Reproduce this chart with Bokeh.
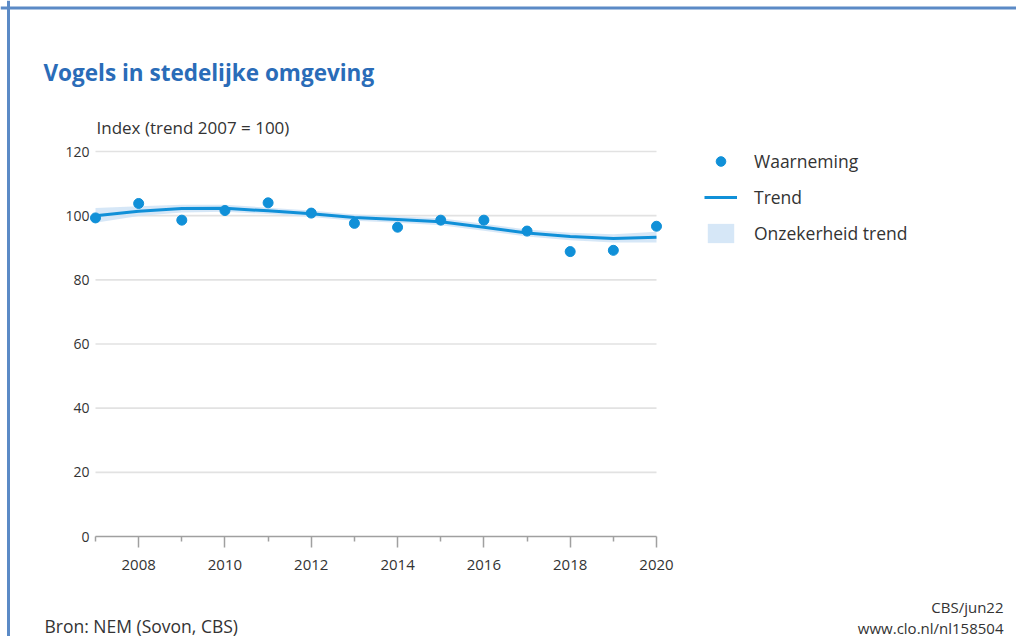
from bokeh.plotting import figure
from bokeh.models import (Range1d, FixedTicker, Label, Legend, LegendItem,
                          ColumnDataSource, Span)
from bokeh.embed import file_html
from bokeh.resources import INLINE

# ---- data ----
years = [2007, 2008, 2009, 2010, 2011, 2012, 2013, 2014, 2015, 2016, 2017, 2018, 2019, 2020]
waarneming = [99.3, 103.8, 98.6, 101.6, 104.0, 100.8, 97.6, 96.4, 98.6, 98.6, 95.2, 88.8, 89.2, 96.7]
trend = [100.0, 101.4, 102.2, 102.3, 101.5, 100.6, 99.4, 98.8, 98.1, 96.4, 94.6, 93.5, 92.9, 93.3]
trend_lower = [97.8, 99.9, 101.0, 101.2, 100.5, 99.6, 98.4, 97.8, 97.0, 95.3, 93.5, 92.3, 91.6, 91.6]
trend_upper = [102.4, 102.9, 103.4, 103.4, 102.5, 101.6, 100.4, 99.8, 99.2, 97.5, 95.7, 94.7, 94.2, 95.0]
y_ticks = [0, 20, 40, 60, 80, 100, 120]
x_major = [2008, 2010, 2012, 2014, 2016, 2018, 2020]
x_minor = [2007, 2009, 2011, 2013, 2015, 2017, 2019]

title_text = "Vogels in stedelijke omgeving"
ylabel_text = "Index (trend 2007 = 100)"
source_text = "Bron: NEM (Sovon, CBS)"
credit1 = "CBS/jun22"
credit2 = "www.clo.nl/nl158504"

FONT = "Open Sans"
TXT = "#333333"
BLUE = "#1090d8"

# ---- layout (pixels on the canvas) ----
W, H = 1016, 636
PX_L, PX_R = 95, 656      # where the first / last year sit
PY_0, PY_T = 536, 151     # where y=0 / y=120 sit (from top)

x0, x1 = years[0], years[-1]
ylo, yhi = y_ticks[0], y_ticks[-1]
sx = (PX_R - PX_L) / (x1 - x0)
sy = (PY_0 - PY_T) / (yhi - ylo)
x_range = Range1d(x0 - PX_L / sx, x1 + (W - PX_R) / sx)
y_range = Range1d(ylo - (H - PY_0) / sy, yhi + PY_T / sy)

src = ColumnDataSource(dict(x=years, obs=waarneming, trend=trend,
                            lo=trend_lower, hi=trend_upper))

p = figure(width=W, height=H, output_backend="svg", toolbar_location=None,
           x_range=x_range, y_range=y_range,
           min_border=0, min_border_left=0, min_border_right=0,
           min_border_top=0, min_border_bottom=0)
p.outline_line_color = None
p.background_fill_color = "white"
p.border_fill_color = "white"
p.xgrid.visible = False
p.ygrid.visible = False

# grid lines (from 2007 to 2020)
gy = y_ticks[1:]
p.segment(x0=[x0] * len(gy), x1=[x1] * len(gy), y0=gy, y1=gy,
          line_color="#e2e2e2", line_width=1.6)

# y axis
p.yaxis.fixed_location = x0
p.yaxis.bounds = (ylo, yhi)
p.yaxis.ticker = FixedTicker(ticks=y_ticks)
p.yaxis.axis_line_color = None
p.yaxis.major_tick_line_color = None
p.yaxis.minor_tick_line_color = None
p.yaxis.major_label_text_font = FONT
p.yaxis.major_label_text_font_size = "14px"
p.yaxis.major_label_text_color = TXT
p.yaxis.major_label_standoff = 0

# x axis
p.xaxis.fixed_location = ylo
p.xaxis.bounds = (x0, x1)
p.xaxis.ticker = FixedTicker(ticks=x_major, minor_ticks=x_minor)
p.xaxis.axis_line_color = "#a0a0a0"
p.xaxis.axis_line_width = 1.5
p.xaxis.major_tick_line_color = "#a0a0a0"
p.xaxis.major_tick_line_width = 1.5
p.xaxis.major_tick_in = 0
p.xaxis.major_tick_out = 11
p.xaxis.minor_tick_line_color = "#a0a0a0"
p.xaxis.minor_tick_line_width = 1.5
p.xaxis.minor_tick_in = 0
p.xaxis.minor_tick_out = 5
p.xaxis.major_label_text_font = FONT
p.xaxis.major_label_text_font_size = "15px"
p.xaxis.major_label_text_color = TXT
p.xaxis.major_label_standoff = 12

# glyphs
band = p.varea(x="x", y1="lo", y2="hi", source=src, fill_color="#cfe3f6", fill_alpha=0.85)
line = p.line(x="x", y="trend", source=src, line_color=BLUE, line_width=3)
pts = p.scatter(x="x", y="obs", source=src, size=10, fill_color=BLUE, line_color=BLUE)

legend = Legend(items=[LegendItem(label="Waarneming", renderers=[pts]),
                       LegendItem(label="Trend", renderers=[line]),
                       LegendItem(label="Onzekerheid trend", renderers=[band])],
                location=(704, H - 149 - 96), orientation="vertical")
legend.border_line_color = None
legend.background_fill_alpha = 0
legend.margin = 0
legend.padding = 0
legend.spacing = 12
legend.glyph_width = 33
legend.glyph_height = 24
legend.label_standoff = 17
legend.label_text_font = FONT
legend.label_text_font_size = "17.5px"
legend.label_text_color = TXT
p.add_layout(legend, "center")

# texts (screen units; frame == canvas, y upward from bottom)
def lab(cx, cy, text, size, color=TXT, style="normal", align="left"):
    p.add_layout(Label(x=cx, y=H - cy, x_units="screen", y_units="screen", text=text,
                       text_font=FONT, text_font_size=size, text_color=color,
                       text_font_style=style, text_align=align,
                       text_baseline="middle"))

lab(43, 72, title_text, "22.5px", color="#2a6cb8", style="bold")
lab(96, 127, ylabel_text, "17px")
lab(44, 625, source_text, "17.5px")
lab(1003, 606, credit1, "15px", align="right")
lab(1003, 627, credit2, "15px", align="right")

# outer frame lines (left and top)
p.add_layout(Span(location=8, location_units="screen", dimension="height",
                  line_color="#5b8ac6", line_width=3))
p.add_layout(Span(location=H - 7.5, location_units="screen", dimension="width",
                  line_color="#5b8ac6", line_width=3))

open("out.html", "w").write(file_html(p, INLINE))
